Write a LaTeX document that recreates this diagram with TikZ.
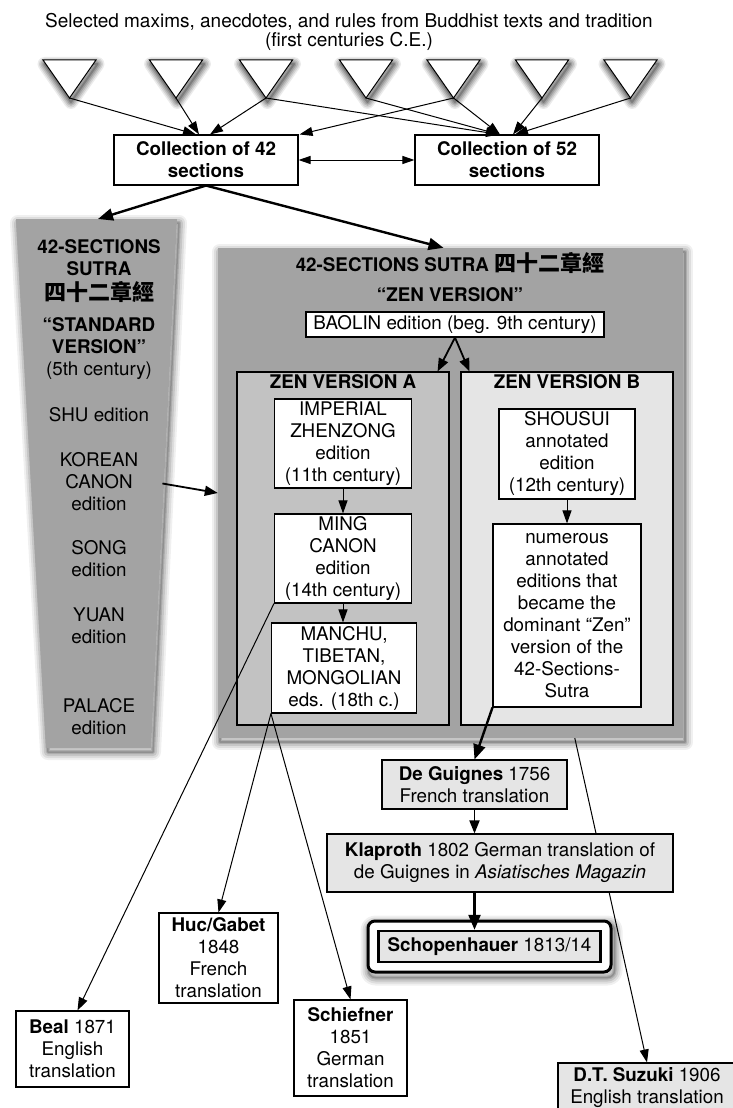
\documentclass[tikz,border=0pt]{standalone}
\usepackage{fontspec}
\setmainfont{TeX Gyre Heros}
\newfontfamily\cjkfont{Noto Sans CJK TC}
\usetikzlibrary{arrows.meta,calc}
\pgfdeclarelayer{bg}
\pgfdeclarelayer{back}
\pgfsetlayers{bg,back,main}
\definecolor{gmid}{gray}{0.64}
\definecolor{glight}{gray}{0.76}
\definecolor{gpale}{gray}{0.9}
\newcommand\myfs{\fontsize{18.8}{22}\selectfont}
\newcommand\myck{\cjkfont\fontsize{22}{22}\selectfont}
\tikzset{
  every node/.style={font=\myfs, align=center, inner sep=0pt},
  box/.style={draw, line width=1.1pt, fill=white},
  pale/.style={box, fill=gpale},
  zen/.style={draw, line width=1.1pt},
  halo/.style={black, line join=round},
  athin/.style={line width=1pt, -{Triangle[length=13pt,width=9pt]}},
  amed/.style={line width=1.8pt, -{Triangle[length=13pt,width=10pt]}},
  athick/.style={line width=2.4pt, -{Triangle[length=15pt,width=12pt]}},
  tri/.pic={
    \foreach \w/\o in {14/0.08,11/0.1,8/0.12,5/0.15,2/0.2}
      \draw[halo, shift={(1.5pt,-4pt)}, line width=\w pt, opacity=\o] (-26.5,0) -- (26.5,0) -- (0,38) -- cycle;
    \draw[line width=1pt, fill=white, line join=miter] (-26.5,0) -- (26.5,0) -- (0,38) -- cycle;
    \coordinate (-apex) at (0,38);}
}
\begin{document}
\begin{tikzpicture}[x=1pt,y=-1pt]
\useasboundingbox (0,0) rectangle (732,1108);
\begin{pgfonlayer}{bg}
\fill[white] (0,0) rectangle (732,1108);
\end{pgfonlayer}

% title
\node[font=\fontsize{19}{19}\selectfont] (title) at (349,31.5) {Selected maxims, anecdotes, and rules from Buddhist texts and tradition\\(first centuries C.E.)};

% triangles
\pic (t1) at (69.5,60) {tri};
\pic (t2) at (176,60) {tri};
\pic (t3) at (266,60) {tri};
\pic (t4) at (366,60) {tri};
\pic (t5) at (453.5,60) {tri};
\pic (t6) at (542,60) {tri};
\pic (t7) at (630.5,60) {tri};

% collections
\node[box, font=\myfs\bfseries, minimum width=184pt, minimum height=50pt] (c42) at (206,160) {Collection of 42\\sections};
\node[box, font=\myfs\bfseries, minimum width=184pt, minimum height=50pt] (c52) at (507,160) {Collection of 52\\sections};

\draw[athin] (t1-apex) -- ([xshift=-10pt]c42.north);
\draw[athin] (t2-apex) -- ([xshift=-7pt]c42.north);
\draw[athin] (t3-apex) -- ([xshift=4pt]c42.north);
\draw[athin] (t5-apex) -- ([xshift=1pt]c42.north east);
\draw[athin] (t3-apex) -- ([xshift=-8pt]c52.north);
\draw[athin] (t4-apex) -- ([xshift=-8pt]c52.north);
\draw[athin] (t5-apex) -- ([xshift=-7pt]c52.north);
\draw[athin] (t6-apex) -- ([xshift=6pt]c52.north);
\draw[athin] (t7-apex) -- ([xshift=8pt]c52.north);
\draw[line width=1pt, {Triangle[length=12pt,width=8pt]}-{Triangle[length=12pt,width=8pt]}] (c42.east) -- (c52.west);

% standard version (left)
\path[fill=gmid] (16,219) -- (177,219) -- (151,748) -- (46,748) -- cycle;
\coordinate (trap) at (98,219);
\node[font=\myfs\bfseries] (s1) at (99,257.5) {42-SECTIONS\\SUTRA};
\node[font=\myck\bfseries] (s2) at (99,292) {四十二章經};
\node (s3) at (99,349) {\textbf{“STANDARD}\\\textbf{VERSION”}\\(5th century)};
\node (shu) at (99,415) {SHU edition};
\node (korean) at (99,481.5) {KOREAN\\CANON\\edition};
\node (song) at (99,559) {SONG\\edition};
\node (yuan) at (99,626) {YUAN\\edition};
\node (palace) at (99,716.5) {PALACE\\edition};

% zen version (main)
\node[fill=gmid, minimum width=465pt, minimum height=490pt] (main) at (450.5,493) {};
\node[font=\myfs\bfseries] (mtitle) at (450,263) {42-SECTIONS SUTRA {\myck 四十二章經}};
\node[font=\myfs\bfseries] (zv) at (450,295) {“ZEN VERSION”};
\node[box, minimum width=298pt, minimum height=25pt] (baolin) at (455,324.5) {BAOLIN edition (beg. 9th century)};

\draw[athick] (c42.south) -- (trap);
\draw[athick] (c42.south) -- ([xshift=-7pt]main.north);
\draw[amed] ($(korean.east)+(24,2)$) -- (main.west);

\node[zen, fill=glight, minimum width=212pt, minimum height=353pt] (zenA) at (343,548.5) {};
\node[zen, fill=gpale, minimum width=212pt, minimum height=353pt] (zenB) at (567,548.5) {};
\node[font=\myfs\bfseries] (zat) at (343,382) {ZEN VERSION A};
\node[font=\myfs\bfseries] (zbt) at (567,382) {ZEN VERSION B};
\draw[amed] (baolin.south) -- ([xshift=-12pt]zenA.north east);
\draw[amed] (baolin.south) -- ([xshift=9pt]zenB.north west);

\node[box, minimum width=137pt, minimum height=89pt] (imp) at (343,443.5) {IMPERIAL\\ZHENZONG\\edition\\(11th century)};
\node[box, minimum width=137pt, minimum height=89pt] (ming) at (343,558.5) {MING\\CANON\\edition\\(14th century)};
\node[box, minimum width=145pt, minimum height=90pt] (manchu) at (344,668) {MANCHU,\\TIBETAN,\\MONGOLIAN\\eds. (18th c.)};
\draw[athin] (imp.south) -- (ming.north);
\draw[athin] (ming.south) -- (ming.south |- manchu.north);

\node[box, minimum width=136pt, minimum height=90pt] (shou) at (567,454) {SHOUSUI\\annotated\\edition\\(12th century)};
\node[box, minimum width=148pt, minimum height=183pt] (num) at (567,615.5) {numerous\\annotated\\editions that\\became the\\dominant “Zen”\\version of the\\42-Sections-\\Sutra};
\draw[athin] (shou.south) -- (num.north);

% translations
\node[pale, minimum width=185pt, minimum height=49pt] (deg) at (474.5,784.5) {\textbf{De Guignes} 1756\\French translation};
\node[pale, minimum width=346pt, minimum height=58pt] (klap) at (500,863) {\textbf{Klaproth} 1802 German translation of\\de Guignes in \textit{Asiatisches Magazin}};
\node[draw, line width=3pt, rounded corners=7pt, fill=white, minimum width=243pt, minimum height=51pt] (schop) at (489.5,946.5) {};
\node[draw, line width=2.5pt, fill=gpale, minimum width=222pt, minimum height=31pt] (schopin) at (489.5,946.5) {\textbf{Schopenhauer} 1813/14};
\node[box, minimum width=119pt, minimum height=90pt] (huc) at (218.5,958) {\textbf{Huc/Gabet}\\1848\\French\\translation};
\node[box, minimum width=113pt, minimum height=76pt] (beal) at (72.5,1049) {\textbf{Beal} 1871\\English\\translation};
\node[box, minimum width=113pt, minimum height=96pt] (schief) at (350.5,1048) {\textbf{Schiefner}\\1851\\German\\translation};
\node[pale, minimum width=178pt, minimum height=49pt] (suz) at (647,1087.5) {\textbf{D.T. Suzuki} 1906\\English translation};

% shadows and the line behind
\begin{pgfonlayer}{back}
\draw[athin] ([xshift=5pt]zenB.south) -- (suz.north);
\foreach \w/\o in {16/0.06,12/0.08,8/0.1,4/0.13,1.5/0.16}{
  \draw[halo, line width=\w pt, opacity=\o] (18,223) -- (179,223) -- (153,752) -- (48,752) -- cycle;
  \draw[halo, line width=\w pt, opacity=\o] ($(main.north west)+(2,4)$) rectangle ($(main.south east)+(2,4)$);
  \draw[halo, line width=\w pt, opacity=\o, rounded corners=7pt] ($(schop.north west)+(2,4)$) rectangle ($(schop.south east)+(2,4)$);
}
\end{pgfonlayer}

\draw[athick] (num.south west) -- (deg.north);
\draw[amed] (deg.south) -- (deg.south |- klap.north);
\draw[athick] (deg.south |- klap.south) -- (deg.south |- schopin.north);
\draw[athin] (ming.south west) -- ([xshift=5pt]beal.north);
\draw[athin] (manchu.south west) -- (huc.north);
\draw[athin] (manchu.south west) -- (schief.north);
\end{tikzpicture}
\end{document}
